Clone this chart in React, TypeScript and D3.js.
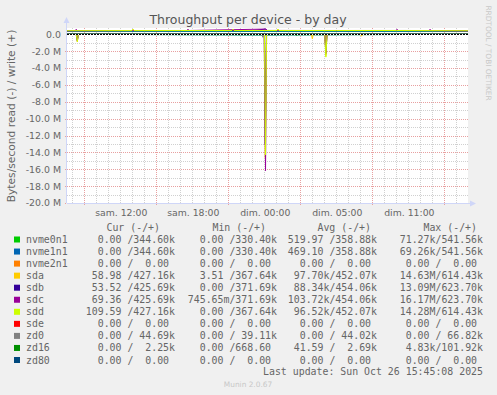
import * as d3 from "d3";

// time in hours since Sat 00:00 UTC, values in kB/s
const T0 = 5.56;
const T1 = 38.97;

const devices = ["nvme0n1", "nvme1n1", "nvme2n1", "sda", "sdb", "sdc", "sdd", "sde", "zd0", "zd16", "zd80"];
const colors = ["#00CC00", "#0066B3", "#FF8000", "#FFCC00", "#330099", "#990099", "#CCFF00", "#FF0000", "#808080", "#008F00", "#00487D"];

type Pt = [number, number];

const writeSeries: Pt[][] = [
  // nvme0n1
  [[T0, 345], [9, 352], [12, 360], [15, 356], [18, 362], [21, 355], [24, 360], [27, 364], [30, 357], [33, 362], [36, 354], [T1, 345]],
  // nvme1n1
  [[T0, 345], [9, 352], [12, 360], [15, 356], [18, 362], [21, 355], [24, 360], [27, 364], [30, 357], [33, 362], [36, 354], [T1, 345]],
  // nvme2n1
  [[T0, 0], [T1, 0]],
  // sda
  [[T0, 430], [10.98, 445], [11.06, 600], [11.14, 445], [15, 450], [19.31, 452], [19.39, 610], [19.47, 452], [23.06, 455], [23.14, 614], [23.22, 455], [28, 450], [33, 452], [T1, 427]],
  // sdb
  [[T0, 428], [9, 450], [15, 455], [21, 456], [22.14, 623], [22.22, 456], [28, 452], [34, 455], [T1, 426]],
  // sdc
  [[T0, 428], [6.25, 440], [6.33, 600], [6.41, 440], [15.56, 452], [15.64, 610], [15.72, 452], [22.14, 623], [22.22, 456], [32.98, 455], [33.06, 605], [33.14, 455], [35.73, 452], [35.81, 600], [35.89, 452], [T1, 426]],
  // sdd
  [[T0, 430], [10.98, 445], [11.06, 598], [11.14, 445], [15, 450], [19.31, 452], [19.39, 605], [19.47, 452], [23.06, 455], [23.14, 612], [23.22, 455], [28, 450], [33, 452], [T1, 427]],
  // sde
  [[T0, 0], [T1, 0]],
  // zd0
  [[T0, 44], [12, 45], [20, 44], [26, 66], [30, 44], [T1, 45]],
  // zd16
  [[T0, 2.2], [15, 2.7], [24.62, 2.7], [24.7, 101.9], [24.78, 2.7], [T1, 2.3]],
  // zd80
  [[T0, 0], [T1, 0]],
];

const readSeries: Pt[][] = [
  // nvme0n1
  [[T0, 0], [22.1, 71], [T1, 0]],
  // nvme1n1
  [[T0, 0], [22.1, 69], [T1, 0]],
  // nvme2n1
  [[T0, 0], [T1, 0]],
  // sda
  [[T0, 5], [6.33, 5], [6.42, 870], [6.51, 5], [21.99, 10], [22.08, 14630], [22.17, 10], [25.92, 10], [26.0, 520], [26.08, 10], [27.04, 10], [27.13, 2500], [27.22, 10], [30.02, 5], [30.1, 220], [30.18, 5], [T1, 0.06]],
  // sdb
  [[T0, 5], [6.33, 5], [6.42, 700], [6.51, 5], [21.99, 10], [22.08, 13090], [22.17, 10], [27.04, 10], [27.13, 2200], [27.22, 10], [T1, 0.05]],
  // sdc
  [[T0, 5], [6.33, 5], [6.42, 800], [6.51, 5], [22.01, 10], [22.1, 16170], [22.19, 10], [27.04, 10], [27.13, 2300], [27.22, 10], [T1, 0.07]],
  // sdd
  [[T0, 5], [6.33, 5], [6.42, 860], [6.51, 5], [22.01, 10], [22.1, 14280], [22.19, 10], [27.04, 10], [27.13, 2700], [27.22, 10], [T1, 0.11]],
  // sde
  [[T0, 0], [T1, 0]],
  // zd0
  [[T0, 0], [21.79, 0], [21.87, 350], [21.95, 0], [T1, 0]],
  // zd16
  [[T0, 0], [24.62, 0], [24.7, 130], [24.78, 0], [T1, 0]],
  // zd80
  [[T0, 0], [T1, 0]],
];

const yTicks = [0, -2e6, -4e6, -6e6, -8e6, -10e6, -12e6, -14e6, -16e6, -18e6, -20e6];
const xTicks = [10, 16, 22, 28, 34];
const xTickLabels = ["sam. 12:00", "sam. 18:00", "dim. 00:00", "dim. 05:00", "dim. 11:00"];

const legendHeaders = ["Cur (-/+)", "Min (-/+)", "Avg (-/+)", "Max (-/+)"];
const curCol = ["0.00 /344.60k", "0.00 /344.60k", "0.00 /  0.00 ", "58.98 /427.16k", "53.52 /425.69k", "69.36 /425.69k", "109.59 /427.16k", "0.00 /  0.00 ", "0.00 / 44.69k", "0.00 /  2.25k", "0.00 /  0.00 "];
const minCol = ["0.00 /330.40k", "0.00 /330.40k", "0.00 /  0.00 ", "3.51 /367.64k", "0.00 /371.69k", "745.65m/371.69k", "0.00 /367.64k", "0.00 /  0.00 ", "0.00 / 39.11k", "0.00 /668.60 ", "0.00 /  0.00 "];
const avgCol = ["519.97 /358.88k", "469.10 /358.88k", "0.00 /  0.00 ", "97.70k/452.07k", "88.34k/454.06k", "103.72k/454.06k", "96.52k/452.07k", "0.00 /  0.00 ", "0.00 / 44.02k", "41.59 /  2.69k", "0.00 /  0.00 "];
const maxCol = ["71.27k/541.56k", "69.26k/541.56k", "0.00 /  0.00 ", "14.63M/614.43k", "13.09M/623.70k", "16.17M/623.70k", "14.28M/614.43k", "0.00 /  0.00 ", "0.00 / 66.82k", "4.83k/101.92k", "0.00 /  0.00 "];

const W = 497;
const H = 395;
const L = 67, R = 468, TOP = 28, BOT = 203;
const FONT = "DejaVu Sans, sans-serif";
const MONO = "DejaVu Sans Mono, monospace";
const TXT = "#666666";

export default function App() {
  const x = d3.scaleLinear().domain([T0, T1]).range([L, R]);
  const y = d3.scaleLinear().domain([-20e6, 0.75e6]).range([BOT, TOP]);
  const line = d3.line<Pt>().x((d) => x(d[0])).y((d) => y(d[1] * 1000));
  const lineNeg = d3.line<Pt>().x((d) => x(d[0])).y((d) => y(-d[1] * 1000));

  const minorX = d3.range(6, 39, 1);
  const majorX = [7, 13, 19, 25, 31, 37];
  const minorY = d3.range(-20e6, 1, 1e6);
  const colEnds = [175, 277, 377, 483];
  const headEnds = [160, 266, 371, 477];
  const rowY = (i: number) => 243 + i * 12.05;
  const cols = [curCol, minCol, avgCol, maxCol];
  const y0 = Math.round(y(0)) + 0.5;

  return (
    <svg width={W} height={H} style={{ position: "absolute", left: 0, top: 0 }}>
      <rect width={W} height={H} fill="#F0F0F0" />
      <rect x={L} y={TOP} width={R - L} height={BOT - TOP} fill="#FFFFFF" />
      <text x={248} y={23.5} textAnchor="middle" fontFamily={FONT} fontSize={12.5} fill="#555">
        Throughput per device - by day
      </text>
      <text transform="translate(15,116) rotate(-90)" textAnchor="middle" fontFamily={FONT} fontSize={10.7} fill={TXT}>
        Bytes/second read (-) / write (+)
      </text>
      <text transform="translate(486,53) rotate(90)" textAnchor="middle" fontFamily={FONT} fontSize={7.4} fill="#C8C8C8">
        RRDTOOL / TOBI OETIKER
      </text>

      {/* grid */}
      <g shapeRendering="crispEdges" strokeWidth={1}>
        {minorX.map((h) => (
          <line key={"mx" + h} x1={Math.round(x(h)) + 0.5} x2={Math.round(x(h)) + 0.5} y1={TOP} y2={BOT} stroke="#D0D0D0" strokeDasharray="1,1" />
        ))}
        {minorY.map((v) => (
          <line key={"my" + v} x1={L} x2={R} y1={Math.round(y(v)) + 0.5} y2={Math.round(y(v)) + 0.5} stroke="#D0D0D0" strokeDasharray="1,1" />
        ))}
        {majorX.map((h) => (
          <line key={"Mx" + h} x1={Math.round(x(h)) + 0.5} x2={Math.round(x(h)) + 0.5} y1={TOP} y2={BOT + 2} stroke="#E8A0A0" strokeDasharray="1,1" />
        ))}
        {yTicks.slice(1).map((v) => (
          <line key={"My" + v} x1={L - 2} x2={R} y1={Math.round(y(v)) + 0.5} y2={Math.round(y(v)) + 0.5} stroke="#E8A0A0" strokeDasharray="1,1" />
        ))}
      </g>

      {/* series */}
      <g fill="none" strokeWidth={1}>
        {devices.map((d, i) => (
          <g key={d}>
            <path d={lineNeg(readSeries[i]) || ""} stroke={colors[i]} />
            <path d={line(writeSeries[i]) || ""} stroke={colors[i]} />
          </g>
        ))}
      </g>
      <line x1={L} x2={R} y1={y0} y2={y0} stroke="#FFFFFF" shapeRendering="crispEdges" />
      <line x1={L} x2={R} y1={y0} y2={y0} stroke="#000000" strokeDasharray="2,1" shapeRendering="crispEdges" />

      {/* axes */}
      <g shapeRendering="crispEdges">
        <line x1={L - 0.5} x2={L - 0.5} y1={BOT} y2={TOP - 6} stroke="#CFD6F8" />
        <line x1={L} x2={R + 3} y1={BOT + 0.5} y2={BOT + 0.5} stroke="#CFD6F8" />
      </g>
      <path d={`M${L - 3.5},${TOP - 5} L${L + 2.5},${TOP - 5} L${L - 0.5},${TOP - 11} Z`} fill="#CFD6F8" />
      <path d={`M${R + 2},${BOT - 2.5} L${R + 2},${BOT + 3.5} L${R + 8},${BOT + 0.5} Z`} fill="#CFD6F8" />

      {yTicks.map((v) => (
        <text key={"yt" + v} x={61} y={y(v)} dy="0.36em" textAnchor="end" fontFamily={FONT} fontSize={9.4} fill={TXT}>
          {v === 0 ? "0.0" : (v / 1e6).toFixed(1) + " M"}
        </text>
      ))}
      {xTicks.map((h, i) => (
        <text key={"xt" + h} x={x(h) + 1} y={216} textAnchor="middle" fontFamily={FONT} fontSize={9.3} fill={TXT}>
          {xTickLabels[i]}
        </text>
      ))}

      {/* legend */}
      <g fontFamily={MONO} fontSize={9.9} fill={TXT}>
        {legendHeaders.map((t, j) => (
          <text key={t} x={headEnds[j]} y={231.3} textAnchor="end" xmlSpace="preserve">
            {t}
          </text>
        ))}
        {devices.map((d, i) => (
          <g key={"lg" + d}>
            <rect x={14} y={rowY(i) - 6.5} width={6} height={6} fill={colors[i]} />
            <text x={26} y={rowY(i)}>{d}</text>
            {cols.map((c, j) => (
              <text key={j} x={colEnds[j]} y={rowY(i)} textAnchor="end" xmlSpace="preserve">
                {c[i]}
              </text>
            ))}
          </g>
        ))}
        <text x={483} y={375.3} textAnchor="end" xmlSpace="preserve">
          Last update: Sun Oct 26 15:45:08 2025
        </text>
      </g>
      <text x={248} y={386.5} textAnchor="middle" fontFamily={FONT} fontSize={7.4} fill="#C8C8C8">
        Munin 2.0.67
      </text>
    </svg>
  );
}
